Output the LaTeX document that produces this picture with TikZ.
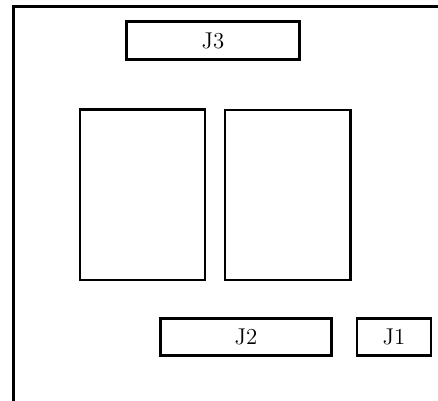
\documentclass[tikz,border=0pt]{standalone}
\usepackage{tikz}

\tikzset{
  part/.style={draw,line width=1.6pt,inner sep=0pt,font=\fontsize{13}{15}\selectfont},
}

\begin{document}
\begin{tikzpicture}[x=0.02cm,y=-0.02cm]
\useasboundingbox (0,0) rectangle (438,400);
\clip (0,0) rectangle (438,400);
% board outline
\draw[line width=1.6pt] (13.5,460) -- (13.5,6.5) -- (480,6.5);
% connectors
\node[part,minimum width=3.46cm,minimum height=0.76cm] (J3) at (213,40.5) {J3};
\node[part,minimum width=3.42cm,minimum height=0.74cm] (J2) at (246,337) {J2};
\node[part,minimum width=1.48cm,minimum height=0.74cm] (J1) at (394,337) {J1};
% modules
\node[part,minimum width=2.5cm,minimum height=3.41cm] (modA) at (142.5,194.75) {};
\node[part,minimum width=2.51cm,minimum height=3.4cm] (modB) at (287.75,195) {};
\end{tikzpicture}
\end{document}
